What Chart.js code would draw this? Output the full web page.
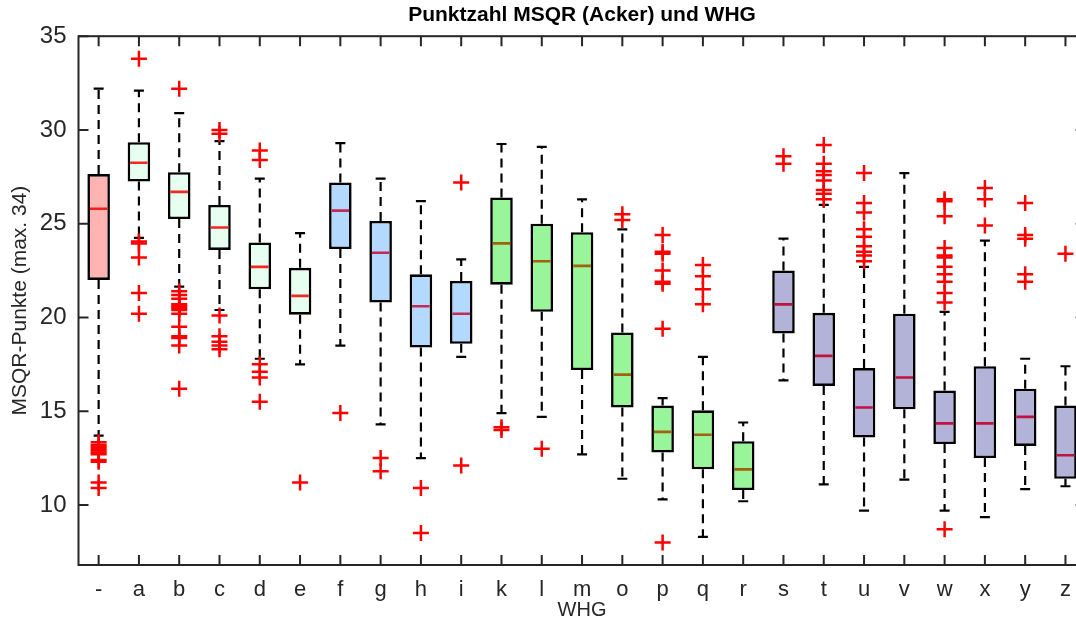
<!DOCTYPE html>
<html>
<head>
<meta charset="utf-8">
<title>Punktzahl MSQR (Acker) und WHG</title>
<script src="https://cdn.jsdelivr.net/npm/chart.js@4.4.1/dist/chart.umd.min.js"></script>
<style>
  html, body { margin: 0; padding: 0; background: #fff; overflow: hidden; }
  #wrap { width: 1076px; height: 623px; overflow: hidden; }
</style>
</head>
<body>
<div id="wrap"><canvas id="boxChart" width="1097" height="623"></canvas></div>
<script>
// WHG categories and box statistics
const categories = ['-', 'a', 'b', 'c', 'd', 'e', 'f', 'g', 'h', 'i', 'k', 'l', 'm',
  'o', 'p', 'q', 'r', 's', 't', 'u', 'v', 'w', 'x', 'y', 'z'];

const whiskerHigh = [32.2, 32.1, 30.9, 29.4, 27.4, 24.5, 29.3, 27.4, 26.2, 23.1, 29.25, 29.1, 26.3,
  24.7, 15.7, 17.9, 14.4, 24.2, 26.0, 22.7, 27.7, 20.3, 24.1, 17.8, 17.4];
const q3 = [27.65, 29.35, 27.75, 26.0, 24.0, 22.65, 27.2, 25.15, 22.3, 21.95, 26.4, 25.0, 24.55,
  19.2, 15.3, 15.05, 13.4, 22.5, 20.25, 17.3, 20.2, 16.1, 17.4, 16.2, 15.3];
const median = [25.8, 28.25, 26.7, 24.8, 22.7, 21.15, 25.7, 23.45, 20.6, 20.2, 23.95, 23.0, 22.75,
  16.95, 13.9, 13.75, 11.9, 20.7, 17.95, 15.2, 16.8, 14.35, 14.35, 14.7, 12.65];
const q1 = [22.0, 27.25, 25.25, 23.6, 21.5, 20.15, 23.65, 20.8, 18.4, 18.6, 21.75, 20.3, 17.2,
  15.2, 12.8, 11.9, 10.8, 19.15, 16.35, 13.6, 15.1, 13.25, 12.5, 13.15, 11.4];
const whiskerLow = [13.7, 24.25, 21.65, 20.4, 17.8, 17.5, 18.5, 14.3, 12.5, 17.9, 14.9, 14.7, 12.7,
  11.4, 10.3, 8.3, 10.2, 16.65, 11.1, 9.7, 11.35, 9.7, 9.35, 10.85, 11.0];

const outliers = [
  [13.35, 13.2, 13.1, 13.0, 12.9, 12.8, 12.7, 12.4, 12.3, 11.2, 10.9],
  [33.8, 24.05, 23.95, 23.2, 21.3, 20.2],
  [32.2, 21.4, 21.2, 21.0, 20.7, 20.6, 20.5, 20.4, 20.2, 19.5, 19.0, 18.9, 18.5, 16.2],
  [30.0, 29.8, 20.1, 19.0, 18.7, 18.5, 18.3],
  [28.9, 28.4, 17.5, 17.1, 16.8, 15.5],
  [11.2],
  [14.9],
  [12.5, 11.8],
  [10.9, 8.5],
  [27.2, 12.1],
  [14.15, 14.0],
  [13.0],
  [],
  [25.5, 25.2],
  [24.4, 23.5, 23.4, 22.5, 21.9, 21.8, 19.4, 8.0],
  [22.8, 22.2, 21.5, 20.7],
  [],
  [28.6, 28.2],
  [29.2, 28.2, 27.8, 27.6, 27.3, 26.8, 26.6, 26.3],
  [27.7, 26.1, 25.6, 24.7, 24.3, 23.8, 23.5, 23.3, 23.0],
  [],
  [26.3, 26.2, 25.4, 23.7, 23.3, 23.2, 22.7, 22.3, 21.9, 21.3, 20.8, 8.7],
  [26.9, 26.3, 24.9],
  [26.1, 24.4, 24.2, 22.3, 21.9],
  [23.4]
];

const yTicks = [10, 15, 20, 25, 30, 35];

// colour groups: '-' | a-e | f-i | k-r | s-z
function groupOf(i) {
  if (i === 0) return 0;
  if (i <= 5) return 1;
  if (i <= 9) return 2;
  if (i <= 16) return 3;
  return 4;
}
const groupFill = ['#ffb3b3', '#e6fff0', '#b3d9ff', '#99f599', '#b3b3d9'];
const groupMedian = ['#f0201c', '#ee2a22', '#c42a55', '#a0620c', '#c0123f'];

const boxFill = categories.map((c, i) => groupFill[groupOf(i)]);
const medianColor = categories.map((c, i) => groupMedian[groupOf(i)]);

const whiskerPoints = [];
const capPoints = [];
categories.forEach((c, i) => {
  whiskerPoints.push({ x: c, y: q3[i] }, { x: c, y: whiskerHigh[i] }, { x: c, y: null });
  whiskerPoints.push({ x: c, y: q1[i] }, { x: c, y: whiskerLow[i] }, { x: c, y: null });
  capPoints.push({ x: c, y: whiskerHigh[i] }, { x: c, y: whiskerLow[i] });
});
const outlierPoints = [];
outliers.forEach((list, i) => {
  list.forEach(v => outlierPoints.push({ x: categories[i], y: v }));
});

// MATLAB style box round the axes with inward ticks
const axesFrame = {
  id: 'axesFrame',
  afterDatasetsDraw(chart) {
    const { ctx, chartArea: a, scales: { x, y } } = chart;
    const tick = 10;
    ctx.save();
    ctx.strokeStyle = '#262626';
    ctx.lineWidth = 2;
    ctx.strokeRect(a.left, a.top, a.right - a.left, a.bottom - a.top);
    ctx.beginPath();
    categories.forEach((c, i) => {
      const px = x.getPixelForValue(i);
      ctx.moveTo(px, a.bottom); ctx.lineTo(px, a.bottom - tick);
      ctx.moveTo(px, a.top); ctx.lineTo(px, a.top + tick);
    });
    yTicks.forEach(v => {
      const py = y.getPixelForValue(v);
      ctx.moveTo(a.left, py); ctx.lineTo(a.left + tick, py);
      ctx.moveTo(a.right, py); ctx.lineTo(a.right - tick, py);
    });
    ctx.stroke();
    ctx.restore();
  }
};

const font = "'Liberation Sans', Arial, Helvetica, sans-serif";

new Chart(document.getElementById('boxChart'), {
  type: 'bar',
  data: {
    labels: categories,
    datasets: [
      {
        type: 'line',
        label: 'Ausreißer',
        data: outlierPoints,
        showLine: false,
        pointStyle: 'cross',
        pointRadius: 8,
        pointBorderWidth: 2.5,
        pointBorderColor: '#ff0000',
        order: 0
      },
      {
        type: 'line',
        label: 'Median',
        data: categories.map((c, i) => ({ x: c, y: median[i] })),
        showLine: false,
        pointStyle: 'line',
        pointRadius: 8.8,
        pointBorderWidth: 2.6,
        pointBorderColor: medianColor,
        order: 1
      },
      {
        type: 'line',
        label: 'Whisker-Enden',
        data: capPoints,
        showLine: false,
        pointStyle: 'line',
        pointRadius: 5,
        pointBorderWidth: 2.2,
        pointBorderColor: '#000',
        order: 2
      },
      {
        label: 'Box',
        data: categories.map((c, i) => [q1[i], q3[i]]),
        backgroundColor: boxFill,
        borderColor: '#000',
        borderWidth: 2.6,
        borderSkipped: false,
        barPercentage: 0.56,
        categoryPercentage: 1.0,
        order: 3
      },
      {
        type: 'line',
        label: 'Whisker',
        data: whiskerPoints,
        borderColor: '#000',
        borderWidth: 2.2,
        borderDash: [9, 6],
        pointRadius: 0,
        spanGaps: false,
        fill: false,
        tension: 0,
        order: 4
      }
    ]
  },
  options: {
    responsive: false,
    animation: false,
    events: [],
    layout: {
      padding: { left: 0, right: 5, top: 0, bottom: 0 }
    },
    plugins: {
      legend: { display: false },
      tooltip: { enabled: false },
      title: {
        display: true,
        fullSize: false,
        text: 'Punktzahl MSQR (Acker) und WHG',
        color: '#000',
        font: { family: font, size: 21, weight: 'bold', lineHeight: 1.2 },
        padding: { top: 3, bottom: 8 }
      }
    },
    scales: {
      x: {
        type: 'category',
        offset: true,
        grid: { display: false, drawTicks: false },
        border: { display: false },
        ticks: {
          color: '#262626',
          font: { family: font, size: 22 },
          padding: 12,
          maxRotation: 0,
          autoSkip: false
        },
        title: {
          display: true,
          text: 'WHG',
          color: '#262626',
          font: { family: font, size: 20 },
          padding: { top: 0, bottom: 1 }
        },
        afterFit(scale) { scale.height = 58; }
      },
      y: {
        type: 'linear',
        min: 6.8,
        max: 35,
        grid: { display: false, drawTicks: false },
        border: { display: false },
        ticks: {
          color: '#262626',
          font: { family: font, size: 24 },
          padding: 12
        },
        afterBuildTicks(scale) {
          scale.ticks = yTicks.map(v => ({ value: v }));
        },
        title: {
          display: true,
          text: 'MSQR-Punkte (max. 34)',
          color: '#262626',
          font: { family: font, size: 21 },
          padding: { top: 8, bottom: 0 }
        },
        afterFit(scale) { scale.width = 78.5; }
      }
    }
  },
  plugins: [axesFrame]
});
</script>
</body>
</html>
